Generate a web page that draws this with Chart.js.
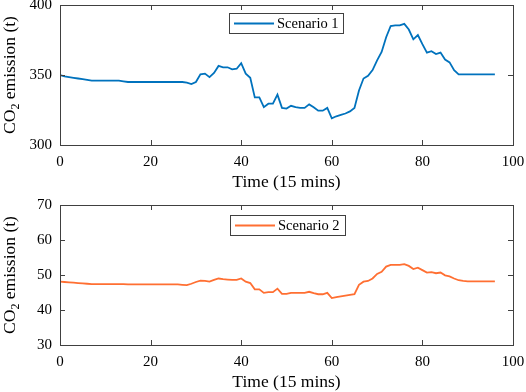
<!DOCTYPE html>
<html>
<head>
<meta charset="utf-8">
<script src="https://cdn.jsdelivr.net/npm/chart.js@4.4.1/dist/chart.umd.min.js"></script>
<style>
    body { margin: 0; background: #fff; }
    #wrap { position: relative; width: 526px; height: 392px; }
    canvas { position: absolute; left: 0; }
</style>
</head>
<body>
<div id="wrap">
    <canvas id="chartTop" width="526" height="196" style="top:0"></canvas>
    <canvas id="chartBottom" width="526" height="196" style="top:196px"></canvas>
</div>
<script>
// time steps (15 min each), 0..96
const timeSteps = Array.from({ length: 97 }, (_, i) => i);

const scenario1 = [
    350, 349, 348.5, 348, 347.5, 347, 346.5, 346, 346, 346,
    346, 346, 346, 346, 345.5, 345, 345, 345, 345, 345,
    345, 345, 345, 345, 345, 345, 345, 345, 344.5, 343.5,
    345, 350.5, 351, 348.5, 351.5, 356.5, 355.5, 355.5, 354, 354.5,
    358.5, 351, 348, 334, 334, 327, 329.5, 329.5, 336, 326.5,
    326, 328, 327, 326.5, 326.5, 329, 327, 324.5, 324.5, 326.5,
    319, 320.5, 321.5, 322.5, 324, 326.5, 339, 347.5, 349.5, 353.5,
    360.5, 366.5, 377, 385, 385.5, 385.5, 386.5, 382.5, 375.5, 378.5,
    372, 366, 367, 365, 366, 361, 359, 353.5, 350.5, 350.5,
    350.5, 350.5, 350.5, 350.5, 350.5, 350.5, 350.5
];

const scenario2 = [
    48.1, 48, 47.9, 47.8, 47.7, 47.6, 47.5, 47.4, 47.4, 47.4,
    47.4, 47.4, 47.4, 47.4, 47.4, 47.3, 47.3, 47.3, 47.3, 47.3,
    47.3, 47.3, 47.3, 47.3, 47.3, 47.3, 47.3, 47.2, 47.1, 47.5,
    48, 48.4, 48.3, 48.1, 48.6, 49, 48.8, 48.7, 48.6, 48.6,
    49, 48.1, 47.7, 45.9, 45.9, 44.9, 45.1, 45.1, 46.1, 44.6,
    44.6, 44.9, 44.9, 44.9, 44.9, 45.2, 44.8, 44.5, 44.5, 44.9,
    43.4, 43.7, 43.9, 44.1, 44.3, 44.5, 47.2, 48.1, 48.3, 49,
    50.3, 50.9, 52.4, 52.9, 52.9, 52.9, 53.1, 52.6, 51.7, 52.1,
    51.4, 50.7, 50.8, 50.5, 50.7, 49.9, 49.6, 49, 48.5, 48.3,
    48.2, 48.2, 48.2, 48.2, 48.2, 48.2, 48.2
];

const xTicks = [0, 20, 40, 60, 80, 100];
const yTicksTop = [300, 350, 400];
const yTicksBottom = [30, 40, 50, 60, 70];

const xTitle = "Time (15 mins)";
const yTitleParts = ["CO", "2", " emission (t)"];

const FONT = "'Liberation Serif', 'Times New Roman', serif";
const AXIS_COLOR = "#404040";

// box, inward ticks, axis titles and legend, MATLAB style
const matlabFrame = {
    id: "matlabFrame",
    afterDraw(chart, args, opts) {
        const ctx = chart.ctx;
        const a = chart.chartArea;
        const xs = chart.scales.x;
        const ys = chart.scales.y;
        ctx.save();

        ctx.strokeStyle = AXIS_COLOR;
        ctx.lineWidth = 1;
        ctx.strokeRect(Math.round(a.left) + 0.5, Math.round(a.top) + 0.5,
            Math.round(a.right - a.left), Math.round(a.bottom - a.top));

        ctx.beginPath();
        xs.ticks.forEach(t => {
            const px = Math.round(xs.getPixelForValue(t.value)) + 0.5;
            ctx.moveTo(px, a.bottom); ctx.lineTo(px, a.bottom - 5);
            ctx.moveTo(px, a.top); ctx.lineTo(px, a.top + 5);
        });
        ys.ticks.forEach(t => {
            const py = Math.round(ys.getPixelForValue(t.value)) + 0.5;
            ctx.moveTo(a.left, py); ctx.lineTo(a.left + 5, py);
            ctx.moveTo(a.right, py); ctx.lineTo(a.right - 5, py);
        });
        ctx.stroke();

        // x title
        ctx.fillStyle = "#000";
        ctx.font = "17.5px " + FONT;
        ctx.textAlign = "center";
        ctx.textBaseline = "middle";
        ctx.fillText(xTitle, (a.left + a.right) / 2, a.bottom + 37);

        // y title with subscript
        const big = "17.5px " + FONT;
        const small = "12px " + FONT;
        ctx.font = big;
        const w0 = ctx.measureText(yTitleParts[0]).width;
        const w2 = ctx.measureText(yTitleParts[2]).width;
        ctx.font = small;
        const w1 = ctx.measureText(yTitleParts[1]).width;
        const total = w0 + w1 + w2;
        ctx.translate(15, (a.top + a.bottom) / 2);
        ctx.rotate(-Math.PI / 2);
        ctx.textAlign = "left";
        ctx.textBaseline = "alphabetic";
        let x = -total / 2;
        ctx.font = big;
        ctx.fillText(yTitleParts[0], x, 0);
        x += w0;
        ctx.font = small;
        ctx.fillText(yTitleParts[1], x, 4);
        x += w1;
        ctx.font = big;
        ctx.fillText(yTitleParts[2], x, 0);
        ctx.setTransform(1, 0, 0, 1, 0, 0);

        // legend
        const ds = chart.data.datasets[0];
        const lg = opts.legendBox;
        ctx.fillStyle = "#fff";
        ctx.fillRect(lg.x, lg.y, lg.w, lg.h);
        ctx.strokeStyle = AXIS_COLOR;
        ctx.lineWidth = 1;
        ctx.strokeRect(lg.x + 0.5, lg.y + 0.5, lg.w, lg.h);
        ctx.strokeStyle = ds.borderColor;
        ctx.lineWidth = 1.8;
        ctx.beginPath();
        ctx.moveTo(lg.x + 5, lg.y + lg.h / 2 + 0.5);
        ctx.lineTo(lg.x + 45, lg.y + lg.h / 2 + 0.5);
        ctx.stroke();
        ctx.fillStyle = "#000";
        ctx.font = "14.5px " + FONT;
        ctx.textAlign = "left";
        ctx.textBaseline = "middle";
        ctx.fillText(ds.label, lg.x + 48, lg.y + lg.h / 2 + 1);

        ctx.restore();
    }
};

function makeChart(canvasId, label, values, color, yMin, yMax, yStep, padTop, xAxisHeight, legendBox) {
    const ctx = document.getElementById(canvasId).getContext("2d");
    return new Chart(ctx, {
        type: "line",
        data: {
            labels: timeSteps,
            datasets: [
                {
                    label: label,
                    data: timeSteps.map((t, i) => ({ x: t, y: values[i] })),
                    borderColor: color,
                    borderWidth: 1.8,
                    pointRadius: 0,
                    tension: 0,
                    fill: false,
                },
            ],
        },
        options: {
            responsive: false,
            animation: false,
            devicePixelRatio: 1,
            layout: { padding: { top: padTop, right: 13, left: 0, bottom: 0 } },
            plugins: {
                legend: { display: false },
                tooltip: { enabled: false },
                matlabFrame: { legendBox: legendBox },
            },
            scales: {
                x: {
                    type: "linear",
                    min: xTicks[0],
                    max: xTicks[xTicks.length - 1],
                    afterBuildTicks: scale => { scale.ticks = xTicks.map(v => ({ value: v })); },
                    afterFit: scale => {
                        scale.height = xAxisHeight;
                        scale.paddingLeft = 0;
                        scale.paddingRight = 0;
                    },
                    grid: { display: false, drawTicks: false },
                    border: { display: false },
                    ticks: {
                        color: "#000",
                        padding: 8,
                        maxRotation: 0,
                        font: { family: FONT, size: 15 },
                    },
                },
                y: {
                    min: yMin,
                    max: yMax,
                    afterBuildTicks: scale => {
                        const t = [];
                        for (let v = yMin; v <= yMax; v += yStep) t.push({ value: v });
                        scale.ticks = t;
                    },
                    afterFit: scale => {
                        scale.width = 60;
                        scale.paddingTop = 0;
                        scale.paddingBottom = 0;
                    },
                    grid: { display: false, drawTicks: false },
                    border: { display: false },
                    ticks: {
                        color: "#000",
                        padding: 8,
                        font: { family: FONT, size: 15 },
                    },
                },
            },
        },
        plugins: [matlabFrame],
    });
}

makeChart("chartTop", "Scenario 1", scenario1, "#0072BD",
    yTicksTop[0], yTicksTop[yTicksTop.length - 1], 50, 5, 51,
    { x: 229, y: 13, w: 114, h: 20 });

makeChart("chartBottom", "Scenario 2", scenario2, "#FF6F32",
    yTicksBottom[0], yTicksBottom[yTicksBottom.length - 1], 10, 9, 47,
    { x: 230, y: 19, w: 115, h: 20 });
</script>
</body>
</html>
